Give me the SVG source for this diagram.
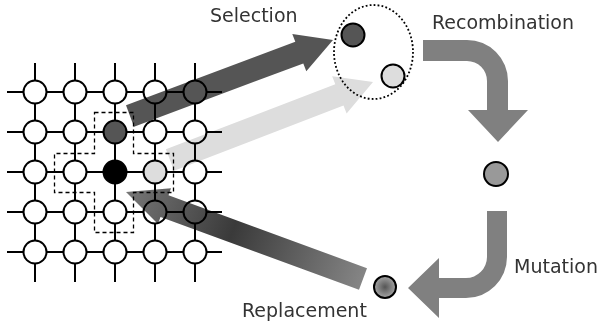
<svg xmlns="http://www.w3.org/2000/svg" width="599" height="326" viewBox="0 0 599 326">
<style>
.g{stroke:#000;stroke-width:2;fill:none}
.n{stroke:#000;stroke-width:2;fill:#fff}
.lbl{font-family:"DejaVu Sans",Verdana,sans-serif;font-size:19px;fill:#333}
.ar{mix-blend-mode:multiply}
</style>
<defs>
<linearGradient id="rg" gradientUnits="userSpaceOnUse" x1="126" y1="192" x2="363" y2="279">
<stop offset="0" stop-color="#777"/>
<stop offset="0.45" stop-color="#3a3a3a"/>
<stop offset="1" stop-color="#858585"/>
</linearGradient>
<radialGradient id="cg">
<stop offset="0" stop-color="#555"/>
<stop offset="1" stop-color="#a5a5a5"/>
</radialGradient>
</defs>
<g id="grid">
<path class="g" d="M7,92H222M7,132H222M7,172H222M7,212H222M7,252H222M35,63V282M75,63V282M115,63V282M155,63V282M195,63V282"/>
<g id="cells">
<circle class="n" cx="35" cy="92" r="11.5"/><circle class="n" cx="75" cy="92" r="11.5"/><circle class="n" cx="115" cy="92" r="11.5"/><circle class="n" cx="155" cy="92" r="11.5"/><circle class="n" cx="195" cy="92" r="11.5"/>
<circle class="n" cx="35" cy="132" r="11.5"/><circle class="n" cx="75" cy="132" r="11.5"/><circle class="n" cx="115" cy="132" r="11.5" style="fill:#555"/><circle class="n" cx="155" cy="132" r="11.5"/><circle class="n" cx="195" cy="132" r="11.5"/>
<circle class="n" cx="35" cy="172" r="11.5"/><circle class="n" cx="75" cy="172" r="11.5"/><circle class="n" cx="115" cy="172" r="11.5" style="fill:#000"/><circle class="n" cx="155" cy="172" r="11.5" style="fill:#ddd"/><circle class="n" cx="195" cy="172" r="11.5"/>
<circle class="n" cx="35" cy="212" r="11.5"/><circle class="n" cx="75" cy="212" r="11.5"/><circle class="n" cx="115" cy="212" r="11.5"/><circle class="n" cx="155" cy="212" r="11.5"/><circle class="n" cx="195" cy="212" r="11.5"/>
<circle class="n" cx="35" cy="252" r="11.5"/><circle class="n" cx="75" cy="252" r="11.5"/><circle class="n" cx="115" cy="252" r="11.5"/><circle class="n" cx="155" cy="252" r="11.5"/><circle class="n" cx="195" cy="252" r="11.5"/>
</g>
<path id="neighborhood" d="M94.5,112.5H133.5V153.5H173.5V192.5H133.5V232.5H94.5V192.5H54.5V153.5H94.5Z" fill="none" stroke="#000" stroke-width="1.3" stroke-dasharray="4 3"/>
</g>
<g id="pool">
<ellipse cx="373.5" cy="52" rx="39.5" ry="47" fill="none" stroke="#000" stroke-width="1.8" stroke-dasharray="1.8 2.2"/>
<circle class="n" cx="353" cy="35" r="11.5" style="fill:#555"/>
<circle class="n" cx="393" cy="76" r="11.5" style="fill:#ddd"/>
</g>
<g id="offspring"><circle class="n" cx="496" cy="174" r="12" style="fill:#999"/></g>
<g id="mutant"><circle class="n" cx="385" cy="287" r="11" style="fill:url(#cg)"/></g>
<g id="connectors">
<polygon class="ar" fill="#555" points="126,105.2 295.3,41.8 292.3,33.9 333,40 306.3,71.3 303.3,63.4 134,126.8"/>
<polygon class="ar" fill="#ddd" points="165.9,149.3 335.3,84.2 332.2,76.2 373,82 346.6,113.6 343.5,105.6 174.1,170.7"/>
<path fill="#808080" d="M423,40H467A41,41 0 0 1 508,81V110H528L498,142L468,110H487V81A20,20 0 0 0 467,61H423Z"/>
<path fill="#808080" d="M487,211H507V257A41,41 0 0 1 466,298H439V318L408,288L439,258V278H466A21,21 0 0 0 487,257Z"/>
<polygon class="ar" fill="url(#rg)" points="126,192 171,188.3 168.5,195.3 367,268.2 359,289.8 160.5,216.9 158,223.9"/>
</g>
<g id="labels">
<text class="lbl" x="210" y="22">Selection</text>
<text class="lbl" x="432" y="29">Recombination</text>
<text class="lbl" x="514" y="273">Mutation</text>
<text class="lbl" x="242" y="317">Replacement</text>
</g>
</svg>
